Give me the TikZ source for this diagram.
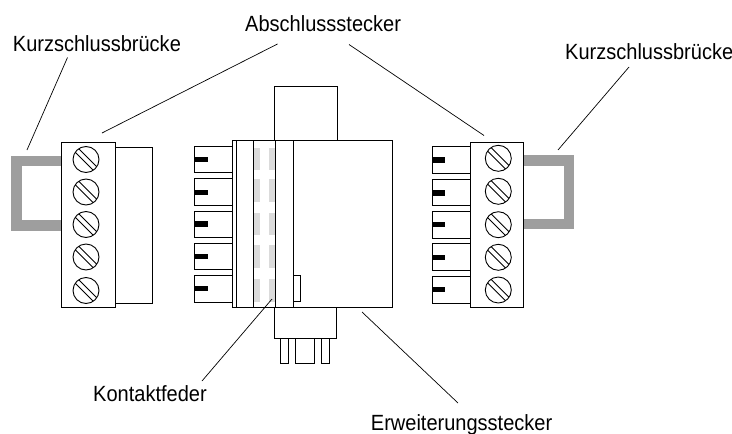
\documentclass[tikz,border=0pt]{standalone}
\usepackage{fontspec}
\setmainfont[FakeStretch=0.91]{Liberation Sans}
\tikzset{
 part/.style={draw=black,line width=0.9pt,fill=white},
 bridge/.style={draw=none,fill=black!38},
 leader/.style={draw=black,line width=0.7pt},
 lbl/.style={anchor=base west,inner sep=0pt,font=\fontsize{22}{26}\selectfont},
 screwhead/.style={draw=black,line width=0.9pt,fill=white,circle,minimum size=26pt,inner sep=0pt},
 slot/.style={draw=black,line width=0.9pt}
}
\newcommand{\screwat}[3]{%
 \node[screwhead] (#1) at (#2,#3) {};
 \draw[slot] (#2-10.8,#3-7.25) -- (#2+7.25,#3+10.8);
 \draw[slot] (#2-7.25,#3-10.8) -- (#2+10.8,#3+7.25);
}
\begin{document}
\begin{tikzpicture}[x=1pt,y=-1pt]
\useasboundingbox (0,0) rectangle (732,434);
% left plug
\fill[bridge] (11,156) rectangle (62,231);
\fill[white] (22,166) rectangle (62,220);
\draw[part] (115,147.5) rectangle (152,303);
\draw[part] (61.5,142) rectangle (115,307.5);
\foreach \n/\y in {a/159.5,b/192,c/224.5,d/257,e/290.5}{\screwat{L\n}{86}{\y}}
% centre
\draw[part] (274,86) rectangle (337.7,140.7);
\draw[part] (274,307.7) rectangle (336.3,338);
\draw[part] (280,338) rectangle (288.7,363.7);
\draw[part] (295.3,338) rectangle (314.3,363.7);
\draw[part] (321,338) rectangle (329.7,363.7);
\draw[part] (232.3,140.7) rectangle (392.3,307.7);
\foreach \a/\b in {147.7/170,179.3/202,212.7/235.3,245/267.7,279/301.7}{
 \fill[black!14] (254.3,\a) rectangle (259.7,\b);
 \fill[black!14] (269.3,\a) rectangle (275.7,\b);
}
\draw[part,fill=none] (236.7,140.7) rectangle (253.3,307.7);
\draw[part,fill=none] (275.7,140.7) rectangle (293,307.7);
\draw[part] (293,275) rectangle (300,301.7);
\foreach \a/\b/\c in {146/172.7/159.3,178.7/205/192.3,211/237.3/224,243.3/269.7/256.7,275.7/302.3/288.7}{
 \draw[part] (194.3,\a) rectangle (232.3,\b);
 \fill[black] (195,\c-2.6) rectangle (208,\c+2.6);
}
% right plug
\fill[bridge] (523,155.3) rectangle (574,229);
\fill[white] (523,165.5) rectangle (563.5,219);
\foreach \a/\b/\c in {146.7/173.3/160,179/205.7/193,211.3/238.3/224.7,243.7/270.7/257.3,276/303/289.3}{
 \draw[part] (432,\a) rectangle (470,\b);
 \fill[black] (433,\c-2.6) rectangle (445,\c+2.6);
}
\draw[part] (470,142) rectangle (523,307.7);
\foreach \n/\y in {a/158.3,b/191.3,c/224.7,d/257.3,e/290}{\screwat{R\n}{498.3}{\y}}
% labels
\node[lbl] (k1) at (12.7,51.7) {Kurzschlussbrücke};
\node[lbl] (ab) at (245,31) {Abschlussstecker};
\node[lbl] (k2) at (565,59.3) {Kurzschlussbrücke};
\node[lbl] (kf) at (93,401.7) {Kontaktfeder};
\node[lbl] (ew) at (370.7,430.7) {Erweiterungsstecker};
% leader ends
\coordinate (e1a) at (67.5,57.5); \coordinate (e1b) at (27,150);
\coordinate (e2a) at (277.5,44); \coordinate (e2b) at (102,133);
\coordinate (e3a) at (349,44.5); \coordinate (e3b) at (484,135.5);
\coordinate (e4a) at (629,67); \coordinate (e4b) at (558,150);
\coordinate (e5a) at (202,381); \coordinate (e5b) at (272,299);
\coordinate (e6a) at (458,403); \coordinate (e6b) at (362,312);
\draw[leader] (e1a) -- (e1b);
\draw[leader] (e2a) -- (e2b);
\draw[leader] (e3a) -- (e3b);
\draw[leader] (e4a) -- (e4b);
\draw[leader] (e5a) -- (e5b);
\draw[leader] (e6a) -- (e6b);
\end{tikzpicture}
\end{document}
